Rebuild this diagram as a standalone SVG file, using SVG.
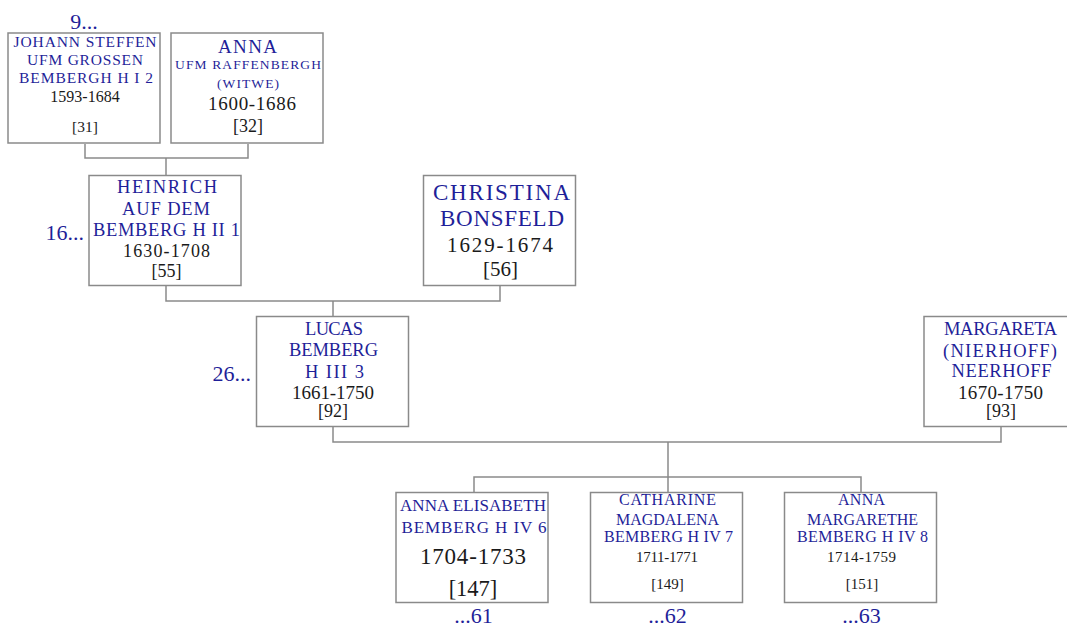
<svg xmlns="http://www.w3.org/2000/svg" width="1067" height="628" viewBox="0 0 1067 628">
<style>
text{font-family:"Liberation Serif","Times New Roman",serif;text-anchor:middle}
.n{fill:#1f1f99}
.d{fill:#1a1a1a}
.l{fill:#1f1f99;font-size:22px}
.box{fill:#fff;stroke:#8a8a8a;stroke-width:1.5}
.con{fill:none;stroke:#8a8a8a;stroke-width:1.5}
</style>
<rect width="1067" height="628" fill="#fff"/>
<g id="connectors" class="con">
<path d="M85,144 V158 H248 V144 M166,158 V175"/>
<path d="M166,285 V301 H500 V285 M333,301 V317"/>
<path d="M333,426 V442 H1001 V426 M668,442 V477"/>
<path d="M474,492 V477 H861 V492 M668,477 V492"/>
</g>
<g id="n31">
<rect class="box" x="8" y="33" width="152" height="110"/>
<text class="n" x="85" y="46.5" font-size="15.5" textLength="143" lengthAdjust="spacing">JOHANN STEFFEN</text>
<text class="n" x="85" y="65" font-size="15.5" textLength="116" lengthAdjust="spacing">UFM GROSSEN</text>
<text class="n" x="86" y="83" font-size="15.5" textLength="134" lengthAdjust="spacing">BEMBERGH H I 2</text>
<text class="d" x="85" y="101.5" font-size="16">1593-1684</text>
<text class="d" x="85" y="132" font-size="15.5">[31]</text>
</g>
<g id="n32">
<rect class="box" x="171" y="33" width="152" height="110"/>
<text class="n" x="247.5" y="52.5" font-size="19" textLength="59" lengthAdjust="spacing">ANNA</text>
<text class="n" x="248" y="68.5" font-size="13.5" textLength="146" lengthAdjust="spacing">UFM RAFFENBERGH</text>
<text class="n" x="248" y="87.5" font-size="13.5" textLength="62" lengthAdjust="spacing">(WITWE)</text>
<text class="d" x="252" y="110" font-size="19" textLength="88" lengthAdjust="spacing">1600-1686</text>
<text class="d" x="248" y="132" font-size="18">[32]</text>
</g>
<g id="n55">
<rect class="box" x="89" y="175.5" width="152" height="110"/>
<text class="n" x="167" y="192.5" font-size="18.5" textLength="100" lengthAdjust="spacing">HEINRICH</text>
<text class="n" x="166" y="214.5" font-size="18.5" textLength="88" lengthAdjust="spacing">AUF DEM</text>
<text class="n" x="166.5" y="235.5" font-size="18.5" textLength="147" lengthAdjust="spacing">BEMBERG H II 1</text>
<text class="d" x="166.5" y="257" font-size="18" textLength="87" lengthAdjust="spacing">1630-1708</text>
<text class="d" x="166.5" y="277" font-size="18">[55]</text>
</g>
<g id="n56">
<rect class="box" x="423.5" y="175.5" width="152" height="110"/>
<text class="n" x="501.5" y="200" font-size="23" textLength="137" lengthAdjust="spacing">CHRISTINA</text>
<text class="n" x="502" y="226" font-size="23" textLength="124" lengthAdjust="spacing">BONSFELD</text>
<text class="d" x="500" y="252" font-size="21" textLength="106" lengthAdjust="spacing">1629-1674</text>
<text class="d" x="500.5" y="276" font-size="21">[56]</text>
</g>
<g id="n92">
<rect class="box" x="256.5" y="316.5" width="152" height="110"/>
<text class="n" x="334" y="334.5" font-size="18.5" textLength="58" lengthAdjust="spacing">LUCAS</text>
<text class="n" x="333.5" y="356" font-size="18.5" textLength="89" lengthAdjust="spacing">BEMBERG</text>
<text class="n" x="334.5" y="377.5" font-size="18.5" textLength="59" lengthAdjust="spacing">H III 3</text>
<text class="d" x="333" y="398.5" font-size="19" textLength="82" lengthAdjust="spacing">1661-1750</text>
<text class="d" x="333" y="417" font-size="18">[92]</text>
</g>
<g id="n93">
<rect class="box" x="924" y="316.5" width="152" height="110"/>
<text class="n" x="1000.5" y="335" font-size="18.5" textLength="113" lengthAdjust="spacing">MARGARETA</text>
<text class="n" x="1000" y="356.5" font-size="18.5" textLength="114" lengthAdjust="spacing">(NIERHOFF)</text>
<text class="n" x="1001.5" y="377" font-size="18.5" textLength="100" lengthAdjust="spacing">NEERHOFF</text>
<text class="d" x="1000.5" y="398.5" font-size="19" textLength="85" lengthAdjust="spacing">1670-1750</text>
<text class="d" x="1001" y="417" font-size="18">[93]</text>
</g>
<g id="n147">
<rect class="box" x="396" y="492.5" width="152" height="110"/>
<text class="n" x="473" y="511" font-size="17" textLength="146" lengthAdjust="spacing">ANNA ELISABETH</text>
<text class="n" x="474" y="532.5" font-size="17" textLength="145" lengthAdjust="spacing">BEMBERG H IV 6</text>
<text class="d" x="473" y="563.5" font-size="23" textLength="106" lengthAdjust="spacing">1704-1733</text>
<text class="d" x="473" y="595.5" font-size="22.5">[147]</text>
</g>
<g id="n149">
<rect class="box" x="590.5" y="492.5" width="152" height="110"/>
<text class="n" x="667.5" y="505" font-size="16" textLength="97" lengthAdjust="spacing">CATHARINE</text>
<text class="n" x="667.5" y="524.5" font-size="16" textLength="103" lengthAdjust="spacing">MAGDALENA</text>
<text class="n" x="668.5" y="541.5" font-size="16" textLength="129" lengthAdjust="spacing">BEMBERG H IV 7</text>
<text class="d" x="667" y="561.5" font-size="15" textLength="62" lengthAdjust="spacing">1711-1771</text>
<text class="d" x="667.5" y="589" font-size="15">[149]</text>
</g>
<g id="n151">
<rect class="box" x="784.5" y="492.5" width="152" height="110"/>
<text class="n" x="861.5" y="505" font-size="16" textLength="47" lengthAdjust="spacing">ANNA</text>
<text class="n" x="862.5" y="524.5" font-size="16" textLength="111" lengthAdjust="spacing">MARGARETHE</text>
<text class="n" x="862.5" y="541.5" font-size="16" textLength="131" lengthAdjust="spacing">BEMBERG H IV 8</text>
<text class="d" x="861.5" y="561.5" font-size="15" textLength="69" lengthAdjust="spacing">1714-1759</text>
<text class="d" x="862" y="589" font-size="15">[151]</text>
</g>
<g id="links">
<text class="l" x="84" y="29">9...</text>
<text class="l" x="84" y="240" style="text-anchor:end">16...</text>
<text class="l" x="251" y="381" style="text-anchor:end">26...</text>
<text class="l" x="473.5" y="623">...61</text>
<text class="l" x="667.5" y="623">...62</text>
<text class="l" x="861.5" y="623">...63</text>
</g>
</svg>
